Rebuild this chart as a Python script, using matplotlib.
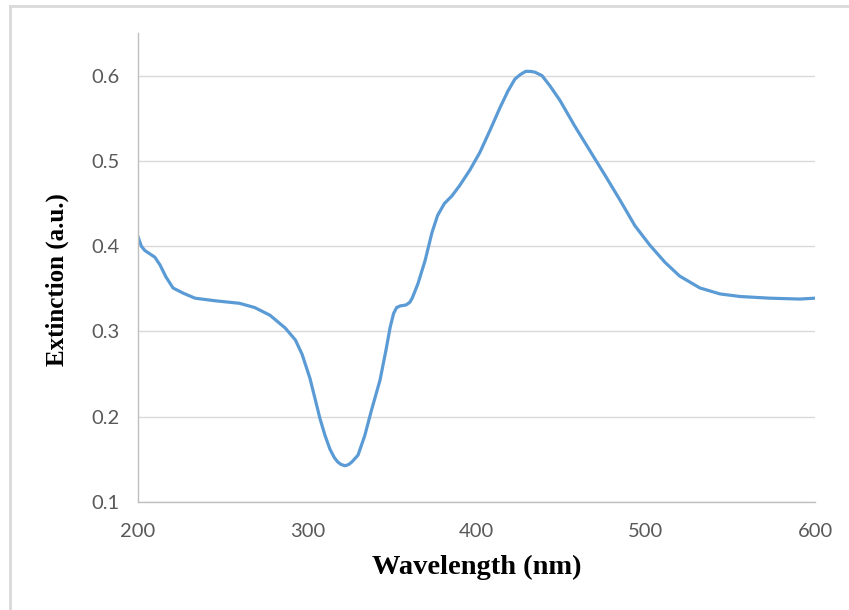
import matplotlib
matplotlib.use("Agg")
import matplotlib.pyplot as plt
from matplotlib.lines import Line2D

# values
wavelength = [200, 202, 204, 207, 210, 213, 216.5, 220.7, 226.6, 233.7, 245.5,
              260, 269, 278, 287, 293, 297, 301.6, 305, 307.5, 310.5, 313.4,
              316, 318, 320, 322.3, 324.5, 326.4, 330, 334, 338, 343, 346.5,
              349, 351, 352.8, 355, 358.3, 360.5, 362, 365.4, 369.6, 373.7,
              377, 381, 385.5, 390, 396, 402, 408, 414, 418.6, 422.7, 425.7,
              429, 432, 434.6, 438.7, 443.4, 449.3, 458, 467, 476, 484.8,
              493.6, 502.5, 511.4, 520, 532, 543.9, 555.7, 573.4, 591, 600]
extinction = [0.411, 0.400, 0.395, 0.391, 0.387, 0.378, 0.364, 0.351, 0.345,
              0.339, 0.336, 0.333, 0.328, 0.319, 0.304, 0.290, 0.273, 0.245,
              0.218, 0.198, 0.178, 0.162, 0.152, 0.147, 0.144, 0.1425, 0.144,
              0.147, 0.155, 0.178, 0.208, 0.243, 0.278, 0.305, 0.321, 0.328,
              0.330, 0.331, 0.334, 0.339, 0.356, 0.383, 0.416, 0.436, 0.450,
              0.459, 0.471, 0.489, 0.510, 0.536, 0.563, 0.582, 0.596, 0.601,
              0.605, 0.605, 0.604, 0.600, 0.588, 0.571, 0.541, 0.512, 0.483,
              0.454, 0.424, 0.401, 0.381, 0.365, 0.351, 0.344, 0.341, 0.339,
              0.338, 0.339]

xticks = [200, 300, 400, 500, 600]
yticks = [0.1, 0.2, 0.3, 0.4, 0.5, 0.6]

W, H = 849, 610
fig = plt.figure(figsize=(W / 100, H / 100), dpi=100)
ax = fig.add_axes([138 / W, (H - 502) / H, (815 - 138) / W, (502 - 33) / H])

ax.plot(wavelength, extinction, color="#5B9BD5", lw=2.3, solid_joinstyle="round")

ax.set_xlim(200, 600)
ax.set_ylim(0.1, 0.65)
ax.set_xticks(xticks)
ax.set_yticks(yticks)
ax.set_xticklabels([str(t) for t in xticks])
ax.set_yticklabels([f"{t:.1f}" for t in yticks])
ax.tick_params(length=0, labelcolor="#595959", labelsize=14.5)
ax.tick_params(axis="x", pad=15)
ax.tick_params(axis="y", pad=13.5)
for lab in ax.get_xticklabels() + ax.get_yticklabels():
    lab.set_family("Lato")

ax.grid(axis="y", color="#D9D9D9", lw=1)
ax.set_axisbelow(True)
for s in ["top", "right"]:
    ax.spines[s].set_visible(False)
for s in ["left", "bottom"]:
    ax.spines[s].set_color("#BFBFBF")
    ax.spines[s].set_linewidth(1)

fig.text(477 / W, 1 - 567 / H, "Wavelength (nm)", ha="center", va="center",
         family="Liberation Serif", weight="bold", fontsize=20.5)
fig.text(57 / W, 1 - 280 / H, "Extinction (a.u.)", ha="center", va="center",
         rotation=90, family="Liberation Serif", weight="bold", fontsize=18)

# chart border (only top and left edges visible in the crop)
fig.add_artist(Line2D([10 / W, 1], [1 - 6 / H, 1 - 6 / H], color="#D9D9D9", lw=2))
fig.add_artist(Line2D([10 / W, 10 / W], [0, 1 - 6 / H], color="#D9D9D9", lw=2))

fig.savefig("out.png", dpi=100)
